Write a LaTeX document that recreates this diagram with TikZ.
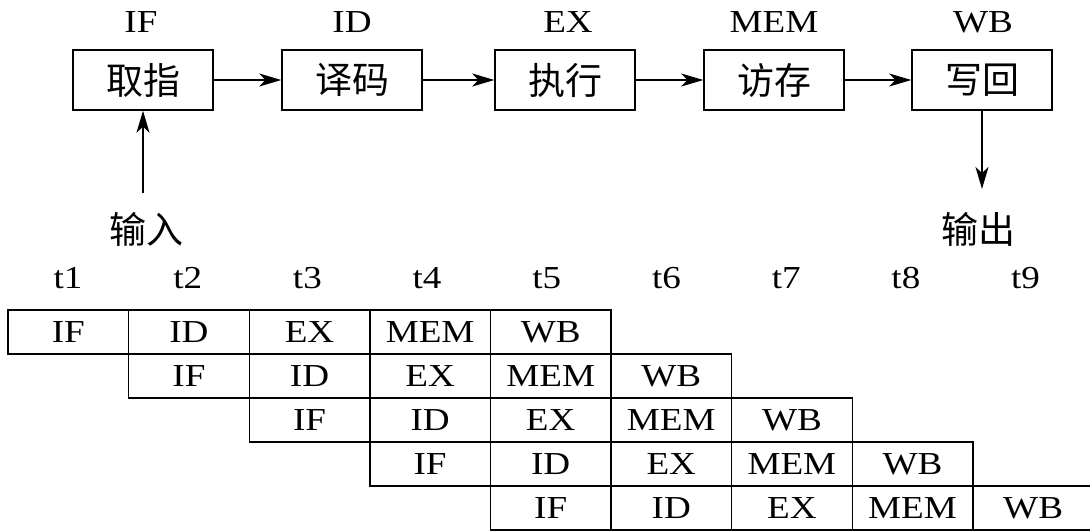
\documentclass[tikz,border=0pt]{standalone}
\usepackage{fontspec}
\setmainfont{Liberation Serif}[FakeStretch=1.16]
\newfontfamily\cjk{Noto Sans CJK SC}
\usetikzlibrary{arrows.meta}
\tikzset{
  stage/.style={draw, line width=1.4pt, minimum width=140pt, minimum height=60pt, inner sep=0pt, font=\cjk\fontsize{37}{37}\selectfont},
  cell/.style={draw, line width=1.4pt, minimum width=120.6pt, minimum height=44pt, inner sep=0pt, font=\fontsize{32}{32}\selectfont},
  lbl/.style={inner sep=0pt, font=\fontsize{32}{32}\selectfont},
  note/.style={inner sep=0pt, font=\cjk\fontsize{37}{37}\selectfont},
  flow/.style={-{Stealth[length=22pt,width=13pt,inset=6pt]}, line width=1.4pt}
}
\begin{document}
\begin{tikzpicture}[x=1pt,y=-1pt]
      \useasboundingbox (0,0) rectangle (1090,531);
      %stages
      \node[stage] (fetch) at (143,80) {取指};
      \node[stage] (decode) at (352,80) {译码};
      \node[stage] (execute) at (565,80) {执行};
      \node[stage] (memory) at (774,80) {访存};
      \node[stage] (writeback) at (982,80) {写回};
      \node[lbl] (lfetch) at (141,22) {IF};
      \node[lbl] (ldecode) at (352,22) {ID};
      \node[lbl] (lexecute) at (568,22) {EX};
      \node[lbl] (lmemory) at (774,22) {MEM};
      \node[lbl] (lwriteback) at (983,22) {WB};
      %input and output
      \node[note] (in) at (146,229) {输入};
      \node[note] (out) at (978,229) {输出};
      \coordinate (inTail) at (143,193);
      \coordinate (outTip) at (982,189);
      %arrows
      \draw[flow] (fetch) -- (decode);
      \draw[flow] (decode) -- (execute);
      \draw[flow] (execute) -- (memory);
      \draw[flow] (memory) -- (writeback);
      \draw[flow] (inTail) -- (fetch);
      \draw[flow] (writeback) -- (outTip);
      %time
      \foreach \t in {1,...,9}
        \node[lbl] (t\t) at ({68+119.7*(\t-1)},278) {t\t};
      %pipeline table
      \foreach \r in {0,...,4}
        \foreach \s [count=\k from 0] in {IF,ID,EX,MEM,WB}
          \node[cell] (c\r\k) at ({68.3+120.6*(\r+\k)},{332+44*\r}) {\s};
    \end{tikzpicture}
\end{document}
